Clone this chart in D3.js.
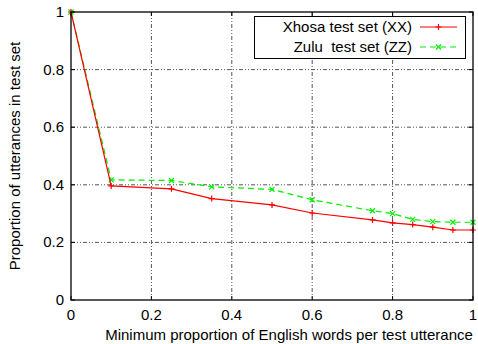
<!DOCTYPE html>
<html>
<head>
<meta charset="utf-8">
<script src="https://cdn.jsdelivr.net/npm/d3@7"></script>
<style>
  body { margin: 0; background: #fff; }
  text { font-family: "Liberation Sans", Arial, sans-serif; fill: #000; white-space: pre; }
</style>
</head>
<body>
<svg id="chart" width="478" height="344"></svg>
<script>
// values
var xValues = [0, 0.1, 0.25, 0.35, 0.5, 0.6, 0.75, 0.8, 0.85, 0.9, 0.95, 1.0]
var xhosa = [1, 0.396, 0.386, 0.352, 0.330, 0.302, 0.278, 0.268, 0.262, 0.253, 0.243, 0.243]
var zulu = [1, 0.417, 0.415, 0.393, 0.384, 0.348, 0.310, 0.300, 0.280, 0.272, 0.270, 0.270]
var tickValues = [0, 0.2, 0.4, 0.6, 0.8, 1]
var seriesNames = ['Xhosa test set (XX)', 'Zulu  test set (ZZ)']

var svg = d3.select('#chart')
var pLeft = 71, pRight = 473, pTop = 12, pBottom = 300
var fs = 15

var x = d3.scaleLinear().domain([0, 1]).range([pLeft, pRight])
var y = d3.scaleLinear().domain([0, 1]).range([pBottom, pTop])

// grid
let grid = svg.append('g')
tickValues.slice(1, -1).forEach(t => {
  grid.append('line').attr('x1', x(t)).attr('x2', x(t)).attr('y1', pTop).attr('y2', pBottom)
  grid.append('line').attr('x1', pLeft).attr('x2', pRight).attr('y1', y(t)).attr('y2', y(t))
})
grid.selectAll('line').attr('stroke', '#555').attr('stroke-width', 1)
  .attr('stroke-dasharray', '4,2,1,2,1,2')

// ticks on all four sides
let ticks = svg.append('g').attr('stroke', '#000')
tickValues.forEach(t => {
  ticks.append('line').attr('x1', x(t)).attr('x2', x(t)).attr('y1', pBottom).attr('y2', pBottom - 4)
  ticks.append('line').attr('x1', x(t)).attr('x2', x(t)).attr('y1', pTop).attr('y2', pTop + 4)
  ticks.append('line').attr('x1', pLeft).attr('x2', pLeft + 4).attr('y1', y(t)).attr('y2', y(t))
  ticks.append('line').attr('x1', pRight).attr('x2', pRight - 4).attr('y1', y(t)).attr('y2', y(t))
})

// tick labels
svg.append('g').selectAll('text').data(tickValues).join('text')
  .attr('x', d => x(d)).attr('y', pBottom + 20)
  .attr('text-anchor', 'middle').attr('font-size', fs)
  .text(d => d3.format('~g')(d))
svg.append('g').selectAll('text').data(tickValues).join('text')
  .attr('x', pLeft - 7).attr('y', d => y(d) + 5)
  .attr('text-anchor', 'end').attr('font-size', fs)
  .text(d => d3.format('~g')(d))

// axis titles
svg.append('text').attr('x', 289).attr('y', 340).attr('text-anchor', 'middle')
  .attr('font-size', fs).text('Minimum proportion of English words per test utterance')
svg.append('text').attr('transform', 'translate(20,156) rotate(-90)').attr('text-anchor', 'middle')
  .attr('font-size', fs).text('Proportion of utterances in test set')

let line = d3.line().x((d, i) => x(xValues[i])).y(d => y(d))

let cross = (g, cx, cy, col) => {
  g.append('path').attr('d', `M${cx-2.5},${cy-2.5}L${cx+2.5},${cy+2.5}M${cx-2.5},${cy+2.5}L${cx+2.5},${cy-2.5}`)
    .attr('stroke', col).attr('stroke-width', 1.2)
}
let plus = (g, cx, cy, col) => {
  g.append('path').attr('d', `M${cx-3},${cy}L${cx+3},${cy}M${cx},${cy-3}L${cx},${cy+3}`)
    .attr('stroke', col).attr('stroke-width', 1.2)
}

// zulu (green dashed, x markers)
svg.append('path').datum(zulu).attr('d', line).attr('fill', 'none')
  .attr('stroke', '#00ee00').attr('stroke-width', 1.2).attr('stroke-dasharray', '6,4')
let zMarks = svg.append('g')
zulu.forEach((v, i) => cross(zMarks, x(xValues[i]), y(v), '#00ee00'))

// xhosa (red solid, + markers)
svg.append('path').datum(xhosa).attr('d', line).attr('fill', 'none')
  .attr('stroke', '#ff0000').attr('stroke-width', 1.2)
let xMarks = svg.append('g')
xhosa.forEach((v, i) => plus(xMarks, x(xValues[i]), y(v), '#ff0000'))

// frame
svg.append('rect').attr('x', pLeft).attr('y', pTop).attr('width', pRight - pLeft).attr('height', pBottom - pTop)
  .attr('fill', 'none').attr('stroke', '#000').attr('stroke-width', 1.3)

// legend
let lg = svg.append('g')
lg.append('rect').attr('x', 254.5).attr('y', 16.5).attr('width', 211).attr('height', 42)
  .attr('fill', '#fff').attr('stroke', '#000')
seriesNames.forEach((name, i) => {
  let cy = 27 + i * 20
  lg.append('text').attr('x', 412).attr('y', cy + 5).attr('text-anchor', 'end')
    .attr('font-size', fs).text(name)
  let l = lg.append('line').attr('x1', 420).attr('x2', 457).attr('y1', cy).attr('y2', cy)
    .attr('stroke-width', 1.2)
  if (i === 0) {
    l.attr('stroke', '#ff0000')
    plus(lg, 438.5, cy, '#ff0000')
  } else {
    l.attr('stroke', '#00ee00').attr('stroke-dasharray', '6,4')
    cross(lg, 438.5, cy, '#00ee00')
  }
})
</script>
</body>
</html>
